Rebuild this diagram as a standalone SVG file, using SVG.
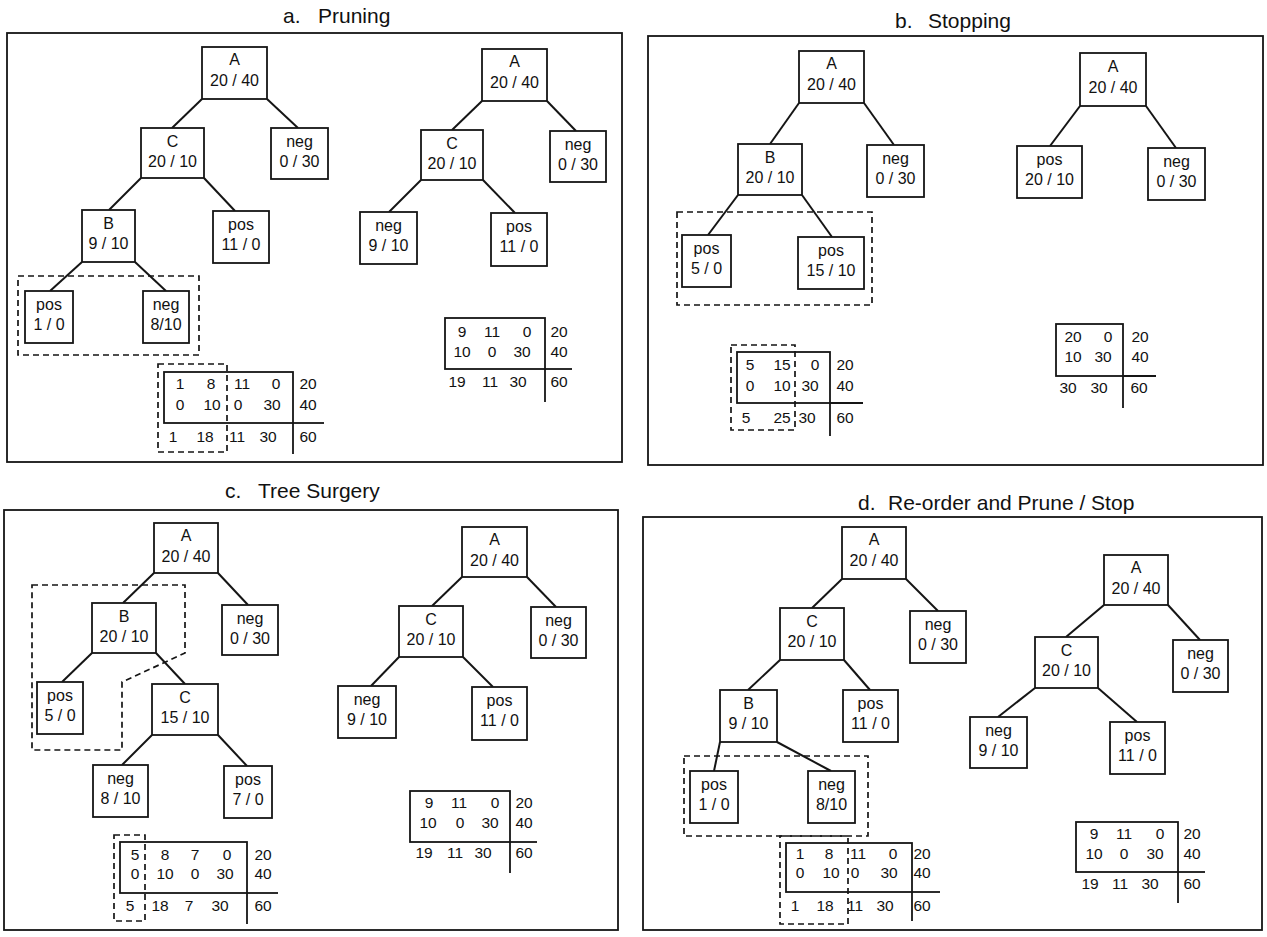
<svg xmlns="http://www.w3.org/2000/svg" width="1267" height="937" viewBox="0 0 1267 937">
<style>
text{font-family:"Liberation Sans",Arial,sans-serif;fill:#111}
.t{font-size:16px;text-anchor:middle}
.n{font-size:15.5px;text-anchor:middle}
.h{font-size:21px}
.box{fill:#fff;stroke:#151515;stroke-width:1.8}
.fr{fill:none;stroke:#151515;stroke-width:1.8}
.ln{stroke:#151515;stroke-width:2;fill:none}
.tb{stroke:#151515;stroke-width:1.8;fill:none}
.ds{fill:none;stroke:#151515;stroke-width:1.7;stroke-dasharray:6 4}
</style>
<rect width="1267" height="937" fill="#fff"/>

<g id="panel-a-frame">
<text class="h" y="23"><tspan x="283">a.</tspan><tspan x="318">Pruning</tspan></text>
<rect class="fr" x="7" y="33" width="615" height="429"/>
</g>
<g id="panel-b-frame">
<text class="h" y="28"><tspan x="895">b.</tspan><tspan x="928">Stopping</tspan></text>
<rect class="fr" x="648" y="36" width="615" height="429"/>
</g>
<g id="panel-c-frame">
<text class="h" y="498"><tspan x="225">c.</tspan><tspan x="258">Tree Surgery</tspan></text>
<rect class="fr" x="4" y="510" width="614" height="420"/>
</g>
<g id="panel-d-frame">
<text class="h" y="510"><tspan x="858">d.</tspan><tspan x="888">Re-order and Prune / Stop</tspan></text>
<rect class="fr" x="643" y="517" width="619" height="413"/>
</g>

<g id="connectors">
<line class="ln" x1="202" y1="99" x2="172" y2="128"/>
<line class="ln" x1="267" y1="99" x2="298" y2="128"/>
<line class="ln" x1="141" y1="178" x2="109" y2="210"/>
<line class="ln" x1="204" y1="178" x2="235" y2="211"/>
<line class="ln" x1="82" y1="262" x2="50" y2="291"/>
<line class="ln" x1="135" y1="262" x2="166" y2="291"/>
<line class="ln" x1="482" y1="101" x2="452" y2="130"/>
<line class="ln" x1="547" y1="101" x2="576" y2="131"/>
<line class="ln" x1="421" y1="180" x2="389" y2="212"/>
<line class="ln" x1="483" y1="180" x2="515" y2="213"/>
<line class="ln" x1="799" y1="103" x2="770" y2="144"/>
<line class="ln" x1="864" y1="103" x2="894" y2="145"/>
<line class="ln" x1="738" y1="195" x2="708" y2="235"/>
<line class="ln" x1="802" y1="195" x2="832" y2="237"/>
<line class="ln" x1="1080" y1="106" x2="1050" y2="146"/>
<line class="ln" x1="1146" y1="106" x2="1176" y2="148"/>
<line class="ln" x1="154" y1="573" x2="123" y2="603"/>
<line class="ln" x1="218" y1="573" x2="248" y2="605"/>
<line class="ln" x1="92" y1="653" x2="62" y2="682"/>
<line class="ln" x1="156" y1="653" x2="185" y2="684"/>
<line class="ln" x1="152" y1="735" x2="122" y2="765"/>
<line class="ln" x1="218" y1="735" x2="247" y2="766"/>
<line class="ln" x1="462" y1="577" x2="432" y2="606"/>
<line class="ln" x1="527" y1="577" x2="556" y2="607"/>
<line class="ln" x1="399" y1="657" x2="371" y2="686"/>
<line class="ln" x1="463" y1="657" x2="493" y2="687"/>
<line class="ln" x1="842" y1="579" x2="812" y2="608"/>
<line class="ln" x1="906" y1="579" x2="938" y2="611"/>
<line class="ln" x1="780" y1="660" x2="748" y2="690"/>
<line class="ln" x1="844" y1="660" x2="870" y2="690"/>
<line class="ln" x1="720" y1="742" x2="714" y2="771"/>
<line class="ln" x1="777" y1="742" x2="831" y2="771"/>
<line class="ln" x1="1104" y1="605" x2="1066" y2="637"/>
<line class="ln" x1="1168" y1="605" x2="1200" y2="640"/>
<line class="ln" x1="1035" y1="688" x2="998" y2="717"/>
<line class="ln" x1="1098" y1="688" x2="1137" y2="722"/>
</g>

<g id="a-A"><rect class="box" x="202" y="47" width="65" height="52"/><text class="t" x="234.5" y="65">A</text><text class="t" x="234.5" y="86">20 / 40</text></g>
<g id="a-C"><rect class="box" x="141" y="128" width="63" height="50"/><text class="t" x="172.5" y="147">C</text><text class="t" x="172.5" y="167">20 / 10</text></g>
<g id="a-neg"><rect class="box" x="271" y="128" width="57" height="51"/><text class="t" x="299.5" y="147">neg</text><text class="t" x="299.5" y="167">0 / 30</text></g>
<g id="a-B"><rect class="box" x="82" y="210" width="53" height="52"/><text class="t" x="108.5" y="229">B</text><text class="t" x="108.5" y="249">9 / 10</text></g>
<g id="a-pos"><rect class="box" x="213" y="211" width="56" height="52"/><text class="t" x="241" y="230">pos</text><text class="t" x="241" y="250">11 / 0</text></g>
<g id="a-prune"><rect class="ds" x="18" y="276" width="181" height="79"/></g>
<g id="a-pos2"><rect class="box" x="25" y="291" width="48" height="52"/><text class="t" x="49" y="310">pos</text><text class="t" x="49" y="330">1 / 0</text></g>
<g id="a-neg2"><rect class="box" x="143" y="291" width="46" height="52"/><text class="t" x="166" y="310">neg</text><text class="t" x="166" y="330">8/10</text></g>
<g id="a-table1">
<rect class="tb" x="164" y="372" width="129" height="51"/>
<line class="tb" x1="293" y1="423" x2="324" y2="423"/>
<line class="tb" x1="293" y1="423" x2="293" y2="454"/>
<rect class="ds" x="158" y="364" width="69" height="88"/>
<text class="n" y="389"><tspan x="180">1</tspan><tspan x="211">8</tspan><tspan x="242">11</tspan><tspan x="276">0</tspan><tspan x="308">20</tspan></text>
<text class="n" y="410"><tspan x="180">0</tspan><tspan x="212">10</tspan><tspan x="238">0</tspan><tspan x="272">30</tspan><tspan x="308">40</tspan></text>
<text class="n" y="442"><tspan x="173">1</tspan><tspan x="205">18</tspan><tspan x="237">11</tspan><tspan x="268">30</tspan><tspan x="308">60</tspan></text>
</g>
<g id="ar-A"><rect class="box" x="482" y="49" width="65" height="52"/><text class="t" x="514.5" y="67">A</text><text class="t" x="514.5" y="88">20 / 40</text></g>
<g id="ar-C"><rect class="box" x="421" y="130" width="62" height="50"/><text class="t" x="452" y="149">C</text><text class="t" x="452" y="169">20 / 10</text></g>
<g id="ar-neg"><rect class="box" x="550" y="131" width="56" height="51"/><text class="t" x="578" y="150">neg</text><text class="t" x="578" y="170">0 / 30</text></g>
<g id="ar-neg2"><rect class="box" x="360" y="212" width="57" height="52"/><text class="t" x="388.5" y="231">neg</text><text class="t" x="388.5" y="251">9 / 10</text></g>
<g id="ar-pos"><rect class="box" x="491" y="213" width="56" height="53"/><text class="t" x="519" y="232">pos</text><text class="t" x="519" y="252">11 / 0</text></g>
<g id="a-table2">
<rect class="tb" x="445" y="318" width="100" height="51"/>
<line class="tb" x1="545" y1="369" x2="572" y2="369"/>
<line class="tb" x1="545" y1="369" x2="545" y2="402"/>
<text class="n" y="337"><tspan x="462">9</tspan><tspan x="492">11</tspan><tspan x="527">0</tspan><tspan x="559">20</tspan></text>
<text class="n" y="357"><tspan x="462">10</tspan><tspan x="492">0</tspan><tspan x="522">30</tspan><tspan x="559">40</tspan></text>
<text class="n" y="387"><tspan x="457">19</tspan><tspan x="490">11</tspan><tspan x="518">30</tspan><tspan x="559">60</tspan></text>
</g>

<g id="b-A"><rect class="box" x="799" y="51" width="65" height="52"/><text class="t" x="831.5" y="69">A</text><text class="t" x="831.5" y="90">20 / 40</text></g>
<g id="b-B"><rect class="box" x="738" y="144" width="64" height="51"/><text class="t" x="770" y="163">B</text><text class="t" x="770" y="183">20 / 10</text></g>
<g id="b-neg"><rect class="box" x="867" y="145" width="57" height="52"/><text class="t" x="895.5" y="164">neg</text><text class="t" x="895.5" y="184">0 / 30</text></g>
<g id="b-stop"><rect class="ds" x="677" y="212" width="195" height="93"/></g>
<g id="b-pos1"><rect class="box" x="682" y="235" width="49" height="52"/><text class="t" x="706.5" y="254">pos</text><text class="t" x="706.5" y="274">5 / 0</text></g>
<g id="b-pos2"><rect class="box" x="798" y="237" width="66" height="52"/><text class="t" x="831" y="256">pos</text><text class="t" x="831" y="276">15 / 10</text></g>
<g id="b-table1">
<rect class="tb" x="737" y="352" width="93" height="51"/>
<line class="tb" x1="830" y1="403" x2="863" y2="403"/>
<line class="tb" x1="830" y1="403" x2="830" y2="436"/>
<rect class="ds" x="731" y="345" width="64" height="85"/>
<text class="n" y="370"><tspan x="750">5</tspan><tspan x="782">15</tspan><tspan x="815">0</tspan><tspan x="845">20</tspan></text>
<text class="n" y="391"><tspan x="750">0</tspan><tspan x="782">10</tspan><tspan x="810">30</tspan><tspan x="845">40</tspan></text>
<text class="n" y="423"><tspan x="746">5</tspan><tspan x="782">25</tspan><tspan x="807">30</tspan><tspan x="845">60</tspan></text>
</g>
<g id="br-A"><rect class="box" x="1080" y="53" width="66" height="53"/><text class="t" x="1113" y="72">A</text><text class="t" x="1113" y="93">20 / 40</text></g>
<g id="br-pos"><rect class="box" x="1017" y="146" width="65" height="52"/><text class="t" x="1049.5" y="165">pos</text><text class="t" x="1049.5" y="185">20 / 10</text></g>
<g id="br-neg"><rect class="box" x="1148" y="148" width="57" height="52"/><text class="t" x="1176.5" y="167">neg</text><text class="t" x="1176.5" y="187">0 / 30</text></g>
<g id="b-table2">
<rect class="tb" x="1056" y="324" width="67" height="52"/>
<line class="tb" x1="1123" y1="376" x2="1156" y2="376"/>
<line class="tb" x1="1123" y1="376" x2="1123" y2="408"/>
<text class="n" y="342"><tspan x="1073">20</tspan><tspan x="1108">0</tspan><tspan x="1140">20</tspan></text>
<text class="n" y="362"><tspan x="1073">10</tspan><tspan x="1103">30</tspan><tspan x="1140">40</tspan></text>
<text class="n" y="393"><tspan x="1068">30</tspan><tspan x="1099">30</tspan><tspan x="1139">60</tspan></text>
</g>

<g id="c-surgery"><polygon class="ds" points="32,585 185,585 185,653 122,682 122,750 32,750"/></g>
<g id="c-A"><rect class="box" x="154" y="523" width="64" height="50"/><text class="t" x="186" y="541">A</text><text class="t" x="186" y="562">20 / 40</text></g>
<g id="c-B"><rect class="box" x="92" y="603" width="64" height="50"/><text class="t" x="124" y="622">B</text><text class="t" x="124" y="642">20 / 10</text></g>
<g id="c-neg"><rect class="box" x="222" y="605" width="56" height="50"/><text class="t" x="250" y="624">neg</text><text class="t" x="250" y="644">0 / 30</text></g>
<g id="c-pos"><rect class="box" x="37" y="682" width="46" height="52"/><text class="t" x="60" y="701">pos</text><text class="t" x="60" y="721">5 / 0</text></g>
<g id="c-C"><rect class="box" x="152" y="684" width="66" height="51"/><text class="t" x="185" y="703">C</text><text class="t" x="185" y="723">15 / 10</text></g>
<g id="c-neg2"><rect class="box" x="93" y="765" width="55" height="52"/><text class="t" x="120.5" y="784">neg</text><text class="t" x="120.5" y="804">8 / 10</text></g>
<g id="c-pos2"><rect class="box" x="224" y="766" width="48" height="52"/><text class="t" x="248" y="785">pos</text><text class="t" x="248" y="805">7 / 0</text></g>
<g id="c-table1">
<rect class="tb" x="120" y="842" width="127" height="51"/>
<line class="tb" x1="247" y1="893" x2="278" y2="893"/>
<line class="tb" x1="247" y1="893" x2="247" y2="924"/>
<rect class="ds" x="114" y="835" width="31" height="86"/>
<text class="n" y="860"><tspan x="135">5</tspan><tspan x="165">8</tspan><tspan x="195">7</tspan><tspan x="227">0</tspan><tspan x="263">20</tspan></text>
<text class="n" y="879"><tspan x="135">0</tspan><tspan x="165">10</tspan><tspan x="195">0</tspan><tspan x="225">30</tspan><tspan x="263">40</tspan></text>
<text class="n" y="911"><tspan x="130">5</tspan><tspan x="160">18</tspan><tspan x="189">7</tspan><tspan x="220">30</tspan><tspan x="263">60</tspan></text>
</g>
<g id="cr-A"><rect class="box" x="462" y="527" width="65" height="50"/><text class="t" x="494.5" y="545">A</text><text class="t" x="494.5" y="566">20 / 40</text></g>
<g id="cr-C"><rect class="box" x="399" y="606" width="64" height="51"/><text class="t" x="431" y="625">C</text><text class="t" x="431" y="645">20 / 10</text></g>
<g id="cr-neg"><rect class="box" x="531" y="607" width="55" height="51"/><text class="t" x="558.5" y="626">neg</text><text class="t" x="558.5" y="646">0 / 30</text></g>
<g id="cr-neg2"><rect class="box" x="338" y="686" width="58" height="52"/><text class="t" x="367" y="705">neg</text><text class="t" x="367" y="725">9 / 10</text></g>
<g id="cr-pos"><rect class="box" x="472" y="687" width="55" height="53"/><text class="t" x="499.5" y="706">pos</text><text class="t" x="499.5" y="726">11 / 0</text></g>
<g id="c-table2">
<rect class="tb" x="410" y="791" width="100" height="51"/>
<line class="tb" x1="510" y1="842" x2="537" y2="842"/>
<line class="tb" x1="510" y1="842" x2="510" y2="873"/>
<text class="n" y="808"><tspan x="429">9</tspan><tspan x="459">11</tspan><tspan x="495">0</tspan><tspan x="524">20</tspan></text>
<text class="n" y="828"><tspan x="428">10</tspan><tspan x="460">0</tspan><tspan x="490">30</tspan><tspan x="524">40</tspan></text>
<text class="n" y="858"><tspan x="424">19</tspan><tspan x="455">11</tspan><tspan x="483">30</tspan><tspan x="524">60</tspan></text>
</g>

<g id="d-A"><rect class="box" x="842" y="527" width="64" height="52"/><text class="t" x="874" y="545">A</text><text class="t" x="874" y="566">20 / 40</text></g>
<g id="d-C"><rect class="box" x="780" y="608" width="64" height="52"/><text class="t" x="812" y="627">C</text><text class="t" x="812" y="647">20 / 10</text></g>
<g id="d-neg"><rect class="box" x="910" y="611" width="56" height="52"/><text class="t" x="938" y="630">neg</text><text class="t" x="938" y="650">0 / 30</text></g>
<g id="d-B"><rect class="box" x="720" y="690" width="57" height="52"/><text class="t" x="748.5" y="709">B</text><text class="t" x="748.5" y="729">9 / 10</text></g>
<g id="d-pos"><rect class="box" x="843" y="690" width="55" height="52"/><text class="t" x="870.5" y="709">pos</text><text class="t" x="870.5" y="729">11 / 0</text></g>
<g id="d-prune"><rect class="ds" x="684" y="756" width="184" height="80"/></g>
<g id="d-pos2"><rect class="box" x="690" y="771" width="48" height="52"/><text class="t" x="714" y="790">pos</text><text class="t" x="714" y="810">1 / 0</text></g>
<g id="d-neg2"><rect class="box" x="808" y="771" width="47" height="52"/><text class="t" x="831.5" y="790">neg</text><text class="t" x="831.5" y="810">8/10</text></g>
<g id="d-table1">
<rect class="tb" x="786" y="843" width="126" height="49"/>
<line class="tb" x1="912" y1="892" x2="940" y2="892"/>
<line class="tb" x1="912" y1="892" x2="912" y2="921"/>
<rect class="ds" x="780" y="836" width="68" height="88"/>
<text class="n" y="859"><tspan x="800">1</tspan><tspan x="829">8</tspan><tspan x="858">11</tspan><tspan x="893">0</tspan><tspan x="922">20</tspan></text>
<text class="n" y="878"><tspan x="800">0</tspan><tspan x="831">10</tspan><tspan x="855">0</tspan><tspan x="889">30</tspan><tspan x="922">40</tspan></text>
<text class="n" y="911"><tspan x="795">1</tspan><tspan x="825">18</tspan><tspan x="855">11</tspan><tspan x="885">30</tspan><tspan x="922">60</tspan></text>
</g>
<g id="dr-A"><rect class="box" x="1104" y="555" width="64" height="50"/><text class="t" x="1136" y="573">A</text><text class="t" x="1136" y="594">20 / 40</text></g>
<g id="dr-C"><rect class="box" x="1035" y="637" width="63" height="51"/><text class="t" x="1066.5" y="656">C</text><text class="t" x="1066.5" y="676">20 / 10</text></g>
<g id="dr-neg"><rect class="box" x="1173" y="640" width="55" height="52"/><text class="t" x="1200.5" y="659">neg</text><text class="t" x="1200.5" y="679">0 / 30</text></g>
<g id="dr-neg2"><rect class="box" x="970" y="717" width="57" height="51"/><text class="t" x="998.5" y="736">neg</text><text class="t" x="998.5" y="756">9 / 10</text></g>
<g id="dr-pos"><rect class="box" x="1110" y="722" width="55" height="52"/><text class="t" x="1137.5" y="741">pos</text><text class="t" x="1137.5" y="761">11 / 0</text></g>
<g id="d-table2">
<rect class="tb" x="1076" y="822" width="102" height="50"/>
<line class="tb" x1="1178" y1="872" x2="1205" y2="872"/>
<line class="tb" x1="1178" y1="872" x2="1178" y2="903"/>
<text class="n" y="839"><tspan x="1094">9</tspan><tspan x="1124">11</tspan><tspan x="1160">0</tspan><tspan x="1192">20</tspan></text>
<text class="n" y="859"><tspan x="1094">10</tspan><tspan x="1124">0</tspan><tspan x="1155">30</tspan><tspan x="1192">40</tspan></text>
<text class="n" y="889"><tspan x="1090">19</tspan><tspan x="1120">11</tspan><tspan x="1150">30</tspan><tspan x="1192">60</tspan></text>
</g>
</svg>
